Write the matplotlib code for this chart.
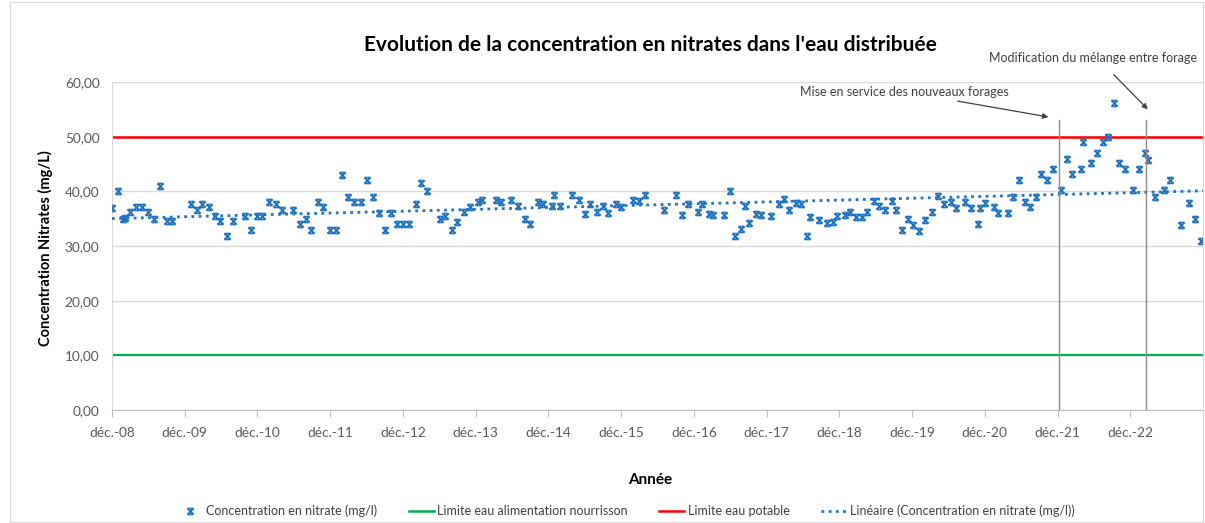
import numpy as np
import matplotlib
matplotlib.use("Agg")
import matplotlib.pyplot as plt
from matplotlib.path import Path
from matplotlib.lines import Line2D
from matplotlib.patches import Rectangle

plt.rcParams['font.family'] = ['Lato', 'DejaVu Sans']

# ---- data (months since déc.-08, nitrate mg/l) ----
months = [0.0, 1.0, 1.8, 2.2, 3.0, 4.0, 4.9, 6.0, 6.9, 8.0, 9.0, 9.9, 13.0, 14.0, 14.9, 16.0,
          17.0, 17.9, 18.9, 20.0, 22.0, 23.0, 23.9, 24.8, 25.9, 27.0, 28.0, 29.9, 31.0, 32.0,
          32.9, 34.0, 34.8, 35.9, 36.9, 38.0, 38.9, 39.9, 41.0, 42.0, 43.0, 44.1, 45.1, 46.0,
          47.0, 48.0, 49.0, 50.1, 51.0, 51.9, 54.1, 55.0, 56.1, 57.0, 58.0, 59.0, 60.4, 61.0,
          63.4, 64.1, 65.8, 67.0, 68.1, 69.0, 70.3, 71.1, 72.6, 73.0, 73.9, 75.9, 77.0, 78.1,
          78.9, 80.0, 81.0, 81.9, 83.1, 84.0, 86.0, 87.0, 88.0, 91.0, 93.1, 94.1, 95.1, 96.7,
          97.3, 98.5, 99.2, 101.0, 101.9, 102.8, 103.7, 104.4, 105.1, 106.2, 107.1, 108.8,
          110.0, 110.8, 111.7, 112.9, 113.6, 114.6, 115.2, 116.7, 117.9, 119.0, 119.6, 120.9,
          121.7, 122.7, 123.8, 124.6, 125.7, 126.5, 127.6, 128.7, 129.4, 130.4, 131.3, 132.2,
          133.2, 134.1, 135.3, 136.2, 137.3, 138.5, 139.3, 140.7, 141.7, 142.8, 143.2, 144.1,
          145.5, 146.1, 147.9, 148.7, 149.6, 150.6, 151.5, 152.5, 153.3, 154.3, 155.2, 156.5,
          157.5, 158.4, 159.8, 160.2, 161.6, 162.5, 163.5, 164.4, 165.3, 166.2, 167.2, 168.5,
          169.4, 170.4, 170.9, 172.0, 173.5, 174.5, 176.3, 177.7, 178.6, 179.6]
nitrate = [37.0, 40.0, 34.9, 35.1, 36.2, 37.1, 37.1, 36.2, 34.9, 41.0, 34.5, 34.5, 37.7, 36.6,
           37.7, 37.1, 35.5, 34.5, 31.9, 34.5, 35.5, 33.0, 35.5, 35.5, 38.0, 37.6, 36.5, 36.5,
           34.0, 34.9, 33.0, 38.0, 37.1, 33.0, 33.0, 43.0, 39.0, 38.0, 38.0, 42.0, 39.0, 36.0,
           33.0, 36.0, 34.0, 34.0, 34.0, 37.6, 41.5, 40.0, 34.9, 35.4, 33.0, 34.4, 36.2, 37.1,
           38.0, 38.5, 38.5, 38.0, 38.5, 37.4, 34.9, 34.0, 38.0, 37.6, 37.4, 39.4, 37.4, 39.4,
           38.5, 35.9, 37.6, 36.2, 37.4, 36.0, 37.6, 37.1, 38.5, 38.2, 39.4, 36.5, 39.3, 35.6,
           37.6, 36.3, 37.6, 35.9, 35.7, 35.6, 40.0, 31.9, 33.1, 37.3, 34.2, 35.9, 35.7, 35.5,
           37.6, 38.6, 36.5, 37.9, 37.7, 31.9, 35.3, 34.7, 34.2, 34.3, 35.5, 35.7, 36.2, 35.3,
           35.3, 36.3, 38.2, 37.3, 36.6, 38.2, 36.6, 32.9, 34.9, 33.9, 32.7, 34.8, 36.2, 39.1,
           37.6, 38.0, 37.0, 38.0, 37.0, 34.0, 37.0, 37.9, 37.2, 36.1, 36.1, 39.0, 42.0, 38.0,
           37.2, 39.0, 43.1, 42.0, 44.0, 40.2, 46.0, 43.1, 44.0, 49.1, 45.1, 47.1, 49.1, 50.0,
           56.1, 45.1, 44.0, 40.2, 44.0, 47.1, 45.7, 39.0, 40.2, 42.0, 33.9, 37.9, 35.0, 31.0]

tick_months = [0, 12, 24, 36, 48, 60, 72, 84, 96, 108, 120, 132, 144, 156, 168]
tick_labels = ['déc.-08', 'déc.-09', 'déc.-10', 'déc.-11', 'déc.-12', 'déc.-13', 'déc.-14',
               'déc.-15', 'déc.-16', 'déc.-17', 'déc.-18', 'déc.-19', 'déc.-20', 'déc.-21',
               'déc.-22']
limite_potable = 50
limite_nourrisson = 10
event_months = [156.2, 170.6]
event_texts = ["Mise en service des nouveaux forages", "Modification du mélange entre forage"]

assert len(months) == len(nitrate)

blue = '#1F74C6'
txt = '#404040'

# hourglass-like Excel "x" marker
xmark = Path([(-1, -1), (1, 1), (-1, 1), (1, -1), (-1, 1), (1, 1), (-1, -1), (1, -1)],
             [Path.MOVETO, Path.LINETO, Path.MOVETO, Path.LINETO,
              Path.MOVETO, Path.LINETO, Path.MOVETO, Path.LINETO])

fig = plt.figure(figsize=(12.05, 5.23), dpi=100)
fig.patches.append(Rectangle((10 / 1205, 0.002), 1193 / 1205, 0.995, transform=fig.transFigure,
                             fill=False, edgecolor='#D9D9D9', linewidth=0.8))
ax = fig.add_axes([112 / 1205, 1 - 410 / 523, (1203 - 112) / 1205, (410 - 82) / 523])

x = np.array(months)
y = np.array(nitrate)

ax.axhline(limite_nourrisson, color='#00B050', lw=1.6, zorder=2)
ax.axhline(limite_potable, color='#FF0000', lw=1.8, zorder=2)

coef = np.polyfit(x, y, 1)
xt = np.array([0, 180])
ax.plot(xt, np.polyval(coef, xt), linestyle=(0, (1, 1.6)), color=blue, lw=2.0, zorder=3)

ax.plot(x, y, linestyle='none', marker=xmark, markersize=4.2, markeredgewidth=1.3,
        color=blue, markerfacecolor='none', zorder=4)

for m in event_months:
    ax.plot([m, m], [0, 53], color='#8C8C8C', lw=1.0, zorder=5)

ax.annotate(event_texts[0], xy=(154.5, 53.6), xytext=(148.0, 58.2),
            ha='right', va='center', fontsize=9, color=txt,
            arrowprops=dict(arrowstyle='-|>', color='#404040', lw=0.9,
                            mutation_scale=8, shrinkA=2, shrinkB=0))
ax.annotate(event_texts[1], xy=(170.9, 55.0), xytext=(179.0, 64.4),
            ha='right', va='center', fontsize=9, color=txt, annotation_clip=False,
            arrowprops=dict(arrowstyle='-|>', color='#404040', lw=0.9,
                            mutation_scale=8, shrinkA=8, shrinkB=0,
                            relpos=(0.55, 0)))

ax.set_xlim(0, 180)
ax.set_ylim(0, 60)
ax.set_yticks(np.arange(0, 61, 10))
ax.set_yticklabels([f"{v:.2f}".replace('.', ',') for v in np.arange(0, 61, 10)])
ax.set_xticks(tick_months)
ax.set_xticklabels(tick_labels)
ax.grid(axis='y', color='#D9D9D9', lw=1.0, zorder=0)
ax.set_axisbelow(True)
for s in ['top', 'right']:
    ax.spines[s].set_visible(False)
ax.spines['left'].set_color('#D9D9D9')
ax.spines['bottom'].set_color('#BFBFBF')
ax.tick_params(axis='y', length=0, pad=9, labelsize=9.8, labelcolor='#595959')
ax.tick_params(axis='x', length=5, direction='out', color='#BFBFBF', pad=7,
               labelsize=9.8, labelcolor='#595959')

fig.text(650 / 1205, 1 - 45 / 523, "Evolution de la concentration en nitrates dans l'eau distribuée",
         ha='center', va='center', fontsize=15, fontweight='bold', color='#000000')
fig.text(45 / 1205, 1 - 248 / 523, "Concentration Nitrates (mg/L)", rotation=90,
         ha='center', va='center', fontsize=10.5, fontweight='bold', color='#000000')
fig.text(650 / 1205, 1 - 480 / 523, "Année", ha='center', va='center',
         fontsize=11, fontweight='bold', color='#000000')

handles = [
    Line2D([], [], linestyle='none', marker=xmark, markersize=4.2, markeredgewidth=1.3,
           color=blue, markerfacecolor='none'),
    Line2D([], [], color='#00B050', lw=1.8),
    Line2D([], [], color='#FF0000', lw=1.8),
    Line2D([], [], color=blue, lw=2.0, linestyle=(0, (1, 1.6))),
]
labels = ['Concentration en nitrate (mg/l)', 'Limite eau alimentation nourrisson',
          'Limite eau potable', 'Linéaire (Concentration en nitrate (mg/l))']
leg = fig.legend(handles, labels, loc='center', bbox_to_anchor=(626 / 1205, 1 - 511 / 523),
                 ncol=4, frameon=False, fontsize=9, handlelength=2.0, handletextpad=0.3,
                 columnspacing=2.5)
for t in leg.get_texts():
    t.set_color(txt)

fig.savefig('out.png', dpi=100)
